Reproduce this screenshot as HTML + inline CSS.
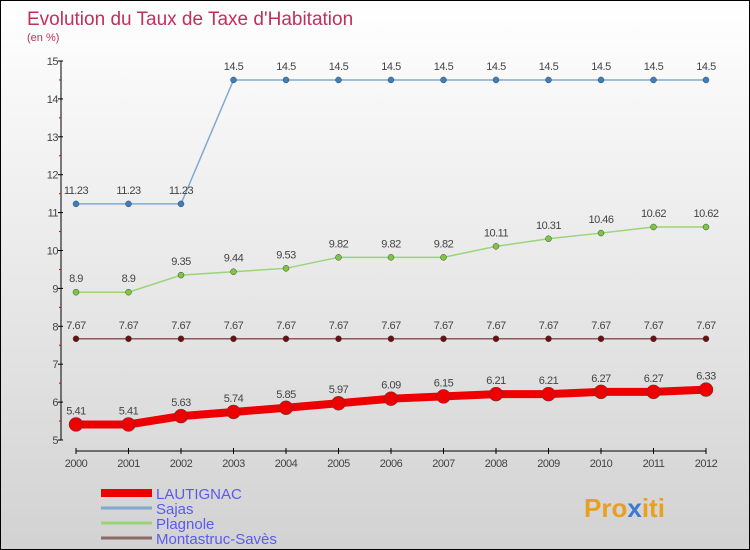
<!DOCTYPE html>
<html><head><meta charset="utf-8"><style>
body{margin:0}
#c{width:750px;height:550px;position:relative;box-sizing:border-box;border:1px solid #000;background:linear-gradient(#fff,#d2d2d2);font-family:"Liberation Sans",sans-serif;overflow:hidden}
svg{position:absolute;left:0;top:0}
</style></head><body>
<div id="c">
<svg id="s" width="750" height="550">
<text x="26" y="24" font-size="19" fill="#c0305a">Evolution du Taux de Taxe d'Habitation</text>
<text x="26" y="40" font-size="11" fill="#c0305a">(en %)</text>
<text x="583" y="516" font-size="26" font-weight="bold" fill="#e8a020">Pro<tspan fill="#3a7ad0">x</tspan>iti</text>
</svg>
</div>
<script>
const years=[2000,2001,2002,2003,2004,2005,2006,2007,2008,2009,2010,2011,2012];
const lautignac=[5.41,5.41,5.63,5.74,5.85,5.97,6.09,6.15,6.21,6.21,6.27,6.27,6.33];
const sajas=[11.23,11.23,11.23,14.5,14.5,14.5,14.5,14.5,14.5,14.5,14.5,14.5,14.5];
const plagnole=[8.9,8.9,9.35,9.44,9.53,9.82,9.82,9.82,10.11,10.31,10.46,10.62,10.62];
const montastruc=[7.67,7.67,7.67,7.67,7.67,7.67,7.67,7.67,7.67,7.67,7.67,7.67,7.67];
const yTicks=[5,6,7,8,9,10,11,12,13,14,15];
const seriesNames=["LAUTIGNAC","Sajas","Plagnole","Montastruc-Savès"];
const NS="http://www.w3.org/2000/svg";const s=document.getElementById('s');
const X=i=>75+i*(630/(years.length-1));const Y=v=>439-(v-5)*37.9;
function el(t,a){const e=document.createElementNS(NS,t);for(const k in a)e.setAttribute(k,a[k]);s.appendChild(e);return e;}
let ax=el('line',{x1:60,y1:60,x2:60,y2:439,stroke:'#000'});

yTicks.forEach(v=>{let t=el('line',{x1:57,x2:62,y1:Y(v),y2:Y(v),stroke:'#000'});

if(v<15){let m=el('line',{x1:58,x2:60,y1:Y(v+0.5),y2:Y(v+0.5),stroke:'#d00'});}
let l=el('text',{x:57,y:Y(v)+4,'text-anchor':'end','font-size':11,fill:'#444','letter-spacing':'-0.5'});l.textContent=v;
});
let xa=el('line',{x1:75,y1:450,x2:705,y2:450,stroke:'#000'});

years.forEach((y,i)=>{let t=el('line',{x1:X(i),x2:X(i),y1:447,y2:453,stroke:'#000'});

let l=el('text',{x:X(i),y:466,'text-anchor':'middle','font-size':11,fill:'#444','letter-spacing':'-0.5'});l.textContent=y;
});
function series(d,col,w,r,dot,name){
let p=el('polyline',{points:d.map((v,i)=>X(i)+','+Y(v)).join(' '),fill:'none',stroke:col,'stroke-width':w});

d.forEach((v,i)=>{let c=el('circle',{cx:X(i),cy:Y(v),r:r,fill:dot,stroke:'#444','stroke-width':0.5});

let l=el('text',{x:X(i),y:Y(v)-10,'text-anchor':'middle','font-size':11,fill:'#444','letter-spacing':'-0.5'});l.textContent=v;
});}
series(montastruc,'#8b5a5a',1.5,3,'#6a1010','montastruc');
series(plagnole,'#9ad47a',1.5,3,'#7cc640','plagnole');
series(sajas,'#80aad0',1.5,3,'#3a80c0','sajas');
series(lautignac,'#ee0000',8,7,'#ee0000','lautignac');
const lc=['#ee0000','#80aad0','#9ad47a','#8b6a6a'],lw=[8,3,3,3];
seriesNames.forEach((n,i)=>{let y=492+i*15;
let l=el('line',{x1:100,x2:151,y1:y,y2:y,stroke:lc[i],'stroke-width':lw[i]});

let t=el('text',{x:155,y:y+6,'font-size':15,fill:'#5a5af0'});t.textContent=n;
});
</script>
</body></html>
